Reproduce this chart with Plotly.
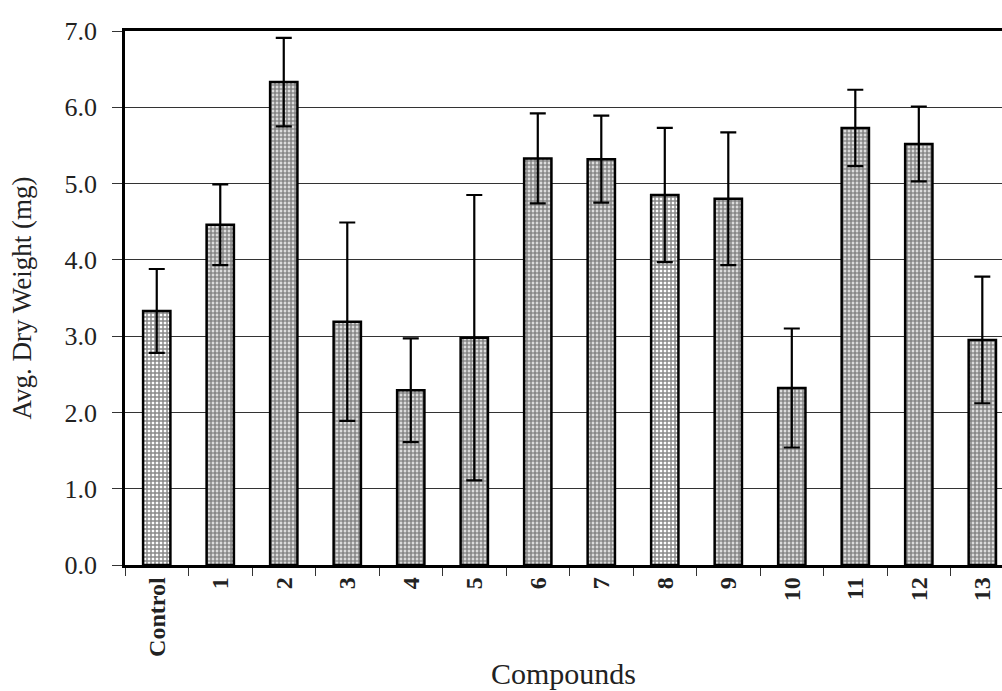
import plotly.graph_objects as go

# data
compounds = ["Control", "1", "2", "3", "4", "5", "6", "7", "8", "9", "10", "11", "12", "13"]
avg_dry_weight = [3.33, 4.46, 6.33, 3.19, 2.29, 2.98, 5.33, 5.32, 4.85, 4.80, 2.32, 5.73, 5.52, 2.95]
std_err = [0.55, 0.53, 0.58, 1.30, 0.68, 1.87, 0.59, 0.57, 0.88, 0.87, 0.78, 0.50, 0.49, 0.83]
fill_style = ["+", ".", ".", ".", ".", ".", ".", ".", "+", ".", ".", ".", ".", "."]
fill_solidity = [0.6, 0.75, 0.75, 0.75, 0.75, 0.75, 0.75, 0.75, 0.6, 0.75, 0.75, 0.75, 0.75, 0.75]

y_ticks = [0, 1, 2, 3, 4, 5, 6, 7]
y_tick_text = ["0.0", "1.0", "2.0", "3.0", "4.0", "5.0", "6.0", "7.0"]

SERIF = "Liberation Serif, Times New Roman, serif"

fig = go.Figure(
    go.Bar(
        x=compounds,
        y=avg_dry_weight,
        width=0.43,
        marker=dict(
            color="white",
            line=dict(color="black", width=2.5),
            pattern=dict(shape=fill_style, fgcolor="#111", bgcolor="white",
                         size=4, solidity=fill_solidity),
        ),
        error_y=dict(type="data", array=std_err, visible=True,
                     color="black", thickness=2.2, width=8),
    )
)

fig.update_layout(
    width=1002, height=691,
    margin=dict(l=125, r=0, t=31, b=126),
    paper_bgcolor="white",
    plot_bgcolor="white",
    showlegend=False,
    font=dict(family=SERIF, color="#222"),
)

fig.update_xaxes(
    automargin=False,
    range=[-0.5, 13.31],
    tickson="boundaries",
    ticks="outside", ticklen=8, tickcolor="#333", tickwidth=1,
    tickangle=-90,
    tickfont=dict(family=SERIF, size=24, color="#222", weight="bold"),
    showline=True, linecolor="black", linewidth=2.5, mirror=True,
    showgrid=False,
    title=dict(text="Compounds", font=dict(family=SERIF, size=30, color="#222"),
               standoff=8),
)

fig.update_yaxes(
    automargin=False,
    range=[0, 7],
    tickvals=y_ticks, ticktext=y_tick_text,
    ticks="outside", ticklen=10, tickcolor="#333", tickwidth=1,
    ticklabelstandoff=10,
    tickfont=dict(family=SERIF, size=26, color="#222"),
    showline=True, linecolor="black", linewidth=2.5,
    showgrid=True, gridcolor="#333", gridwidth=1,
    zeroline=False,
    title=dict(text="Avg. Dry Weight (mg)", font=dict(family=SERIF, size=27, color="#222"),
               standoff=26),
)

# page body has a default margin; drop it so the figure sits at the window corner
fig.write_html("out.html", config={"displayModeBar": False},
               post_script="document.body.style.margin='0';")
